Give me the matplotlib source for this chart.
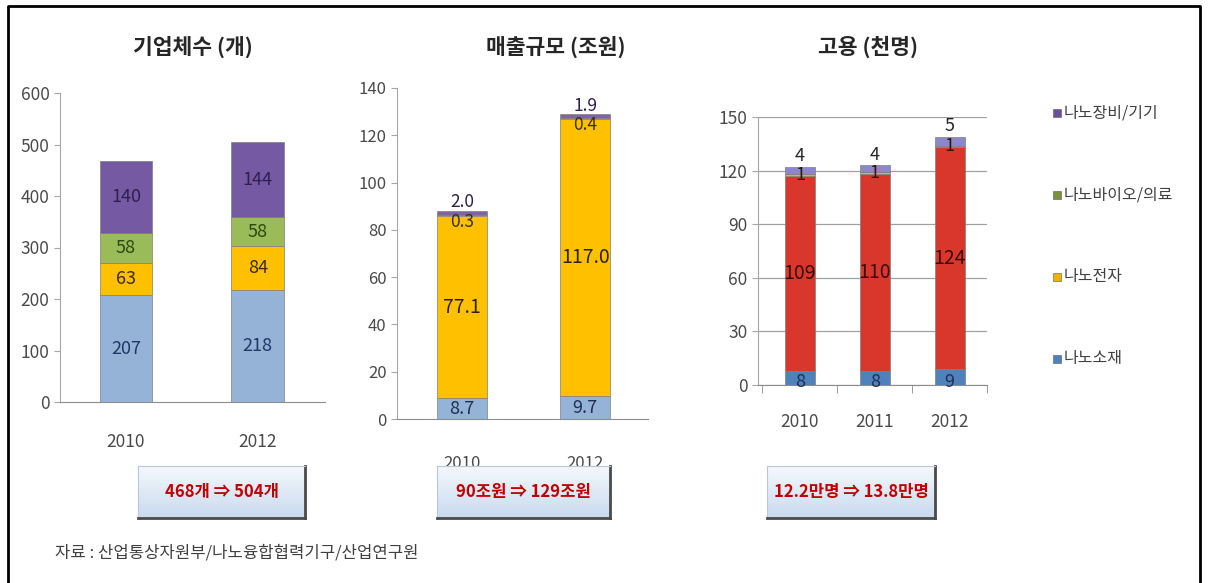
import numpy as np
import matplotlib
matplotlib.use("Agg")
from matplotlib import pyplot as plt
from matplotlib.patches import Rectangle

plt.rcParams['font.family'] = ['Noto Sans CJK KR', 'DejaVu Sans']

# 기업체수 (개)
years_a = ['2010', '2012']
firms_material = [207, 218]
firms_elec = [63, 84]
firms_bio = [58, 58]
firms_equip = [140, 144]

# 매출규모 (조원)
sales_material = [8.7, 9.7]
sales_elec = [77.1, 117.0]
sales_bio = [0.3, 0.4]
sales_equip = [2.0, 1.9]

# 고용 (천명)
years_c = ['2010', '2011', '2012']
emp_material = [8, 8, 9]
emp_elec = [109, 110, 124]
emp_bio = [1, 1, 1]
emp_equip = [4, 4, 5]

legend_names = ['나노장비/기기', '나노바이오/의료', '나노전자', '나노소재']
legend_colors = ['#6B4F9B', '#77933C', '#F2B100', '#4F81BD']

summary = ['468개 ⇒ 504개', '90조원 ⇒ 129조원', '12.2만명 ⇒ 13.8만명']
source = '자료 : 산업통상자원부/나노융합협력기구/산업연구원'

W, H = 1208, 583
fig = plt.figure(figsize=(W / 100, H / 100), dpi=100)


def px_axes(x0, y_top, x1, y_bot):
    return fig.add_axes([x0 / W, (H - y_bot) / H, (x1 - x0) / W, (y_bot - y_top) / H])


def style_axes(ax, size=12.5, pad=22, grid=False):
    for s in ['top', 'right']:
        ax.spines[s].set_visible(False)
    ax.spines['left'].set_color('#A6A6A6')
    ax.spines['bottom'].set_color('#8C8C8C')
    ax.tick_params(axis='y', colors='#A6A6A6', labelcolor='#4A4A4A', labelsize=size, length=4)
    ax.tick_params(axis='x', length=0, labelsize=size, labelcolor='#4A4A4A', pad=pad)
    if grid:
        ax.yaxis.grid(True, color='#A0A0A0', linewidth=0.9)
        ax.set_axisbelow(True)


def stack(ax, x, series, colors, width):
    bottom = np.zeros(len(x))
    for vals, c in zip(series, colors):
        ax.bar(x, vals, width, bottom=bottom, color=c, edgecolor='#7F7F7F', linewidth=0.5)
        bottom = bottom + np.array(vals)
    return bottom


# ---- 기업체수 ----
ax1 = px_axes(60, 93, 325, 402)
x = np.arange(len(years_a))
s1 = [firms_material, firms_elec, firms_bio, firms_equip]
stack(ax1, x, s1, ['#95B3D7', '#FFC000', '#9BBB59', '#7559A3'], 0.40)
bot = np.zeros(len(x))
for vals, tc in zip(s1, ['#1F3864', '#3A2C00', '#2D4A12', '#2E1F4F']):
    for i, v in enumerate(vals):
        ax1.text(x[i], bot[i] + v / 2, f'{v}', ha='center', va='center', fontsize=13, color=tc)
    bot = bot + np.array(vals)
ax1.set_xlim(-0.5, 1.51)
ax1.set_ylim(0, 600)
ax1.set_yticks(range(0, 601, 100))
ax1.set_xticks(x)
ax1.set_xticklabels(years_a)
style_axes(ax1, size=12.5, pad=22)
fig.text(193 / W, 1 - 47 / H, '기업체수 (개)', ha='center', va='center', fontsize=15.5, fontweight='bold', color='#262626')

# ---- 매출규모 ----
ax2 = px_axes(397, 88, 648, 419)
s2 = [sales_material, sales_elec, sales_bio, sales_equip]
stack(ax2, x, s2, ['#95B3D7', '#FFC000', '#F5E663', '#7F62A8'], 0.41)
for i in range(len(x)):
    base = sales_material[i]
    ax2.text(x[i], base / 2, f'{sales_material[i]}', ha='center', va='center', fontsize=13, color='#1F2F4F')
    ax2.text(x[i], base + sales_elec[i] / 2, f'{sales_elec[i]}', ha='center', va='center', fontsize=14, color='#2B2200')
    top = base + sales_elec[i]
    ax2.text(x[i], top - 2.5, f'{sales_bio[i]}', ha='center', va='center', fontsize=12.5, color='#3A3000')
    ax2.text(x[i], top + sales_bio[i] + sales_equip[i] + 3.5, f'{sales_equip[i]}', ha='center', va='center',
             fontsize=12.5, color='#2E1F4F')
ax2.set_xlim(-0.53, 1.51)
ax2.set_ylim(0, 140)
ax2.set_yticks(range(0, 141, 20))
ax2.set_xticks(x)
ax2.set_xticklabels(years_a)
style_axes(ax2, size=12, pad=26)
fig.text(556 / W, 1 - 47 / H, '매출규모 (조원)', ha='center', va='center', fontsize=15.5, fontweight='bold', color='#262626')

# ---- 고용 ----
ax3 = px_axes(758, 117, 987, 385)
xc = np.arange(len(years_c))
s3 = [emp_material, emp_elec, emp_bio, emp_equip]
stack(ax3, xc, s3, ['#4F81BD', '#D9372C', '#F5A04A', '#8E86CC'], 0.40)
for i in range(len(xc)):
    ax3.text(xc[i], 1.5, f'{emp_material[i]}', ha='center', va='center', fontsize=13, color='#1F2F4F')
    base = emp_material[i]
    ax3.text(xc[i], base + emp_elec[i] / 2, f'{emp_elec[i]}', ha='center', va='center', fontsize=14, color='#3B0A06')
    top = base + emp_elec[i]
    ax3.text(xc[i], top + 0.5, f'{emp_bio[i]}', ha='center', va='center', fontsize=13, color='#2B1A00')
    ax3.text(xc[i], top + emp_bio[i] + emp_equip[i] + 6, f'{emp_equip[i]}', ha='center', va='center',
             fontsize=13, color='#262626')
ax3.set_xlim(-0.56, 2.49)
ax3.set_ylim(0, 150)
ax3.set_yticks(range(0, 151, 30))
ax3.set_xticks(xc)
ax3.set_xticklabels(years_c)
ax3.set_xticks([-0.5, 0.5, 1.5, 2.5], minor=True)
ax3.tick_params(axis='x', which='minor', length=6, colors='#8C8C8C')
style_axes(ax3, size=12.5, pad=20, grid=True)
fig.text(868 / W, 1 - 47 / H, '고용 (천명)', ha='center', va='center', fontsize=15.5, fontweight='bold', color='#262626')

# ---- legend ----
for j, (name, c) in enumerate(zip(legend_names, legend_colors)):
    yy = 113 + j * 82
    fig.patches.append(Rectangle((1053 / W, 1 - (yy + 4) / H), 8 / W, 8 / H, transform=fig.transFigure,
                                 facecolor=c, edgecolor='#5A5A5A', linewidth=0.4))
    fig.text(1064 / W, 1 - yy / H, name, ha='left', va='center', fontsize=11.5, color='#404040')

# ---- summary boxes ----
grad = np.linspace(0, 1, 64).reshape(-1, 1)
box_cmap = matplotlib.colors.LinearSegmentedColormap.from_list('box', ['#F4F8FD', '#C9DAEE'])
for (bx0, bx1), txt in zip([(138, 305), (437, 610), (767, 935)], summary):
    bax = px_axes(bx0, 466, bx1, 518)
    bax.imshow(grad, aspect='auto', cmap=box_cmap, extent=[0, 1, 0, 1], origin='upper')
    bax.set_xticks([])
    bax.set_yticks([])
    for s in ['top', 'left']:
        bax.spines[s].set_color('#B8C8DC')
    for s in ['bottom', 'right']:
        bax.spines[s].set_color('#4A4A4A')
        bax.spines[s].set_linewidth(2)
    bax.text(0.5, 0.5, txt, ha='center', va='center', fontsize=12, fontweight='bold', color='#C00000',
             transform=bax.transAxes)

fig.text(55 / W, 1 - 553 / H, source, ha='left', va='center', fontsize=12, color='#404040')

# frame
fig.lines.append(plt.Line2D([8 / W, 8 / W, 1200 / W, 1200 / W], [0, 1 - 6 / H, 1 - 6 / H, 0],
                            transform=fig.transFigure, color='black', linewidth=2))

fig.savefig('out.png', dpi=100)
